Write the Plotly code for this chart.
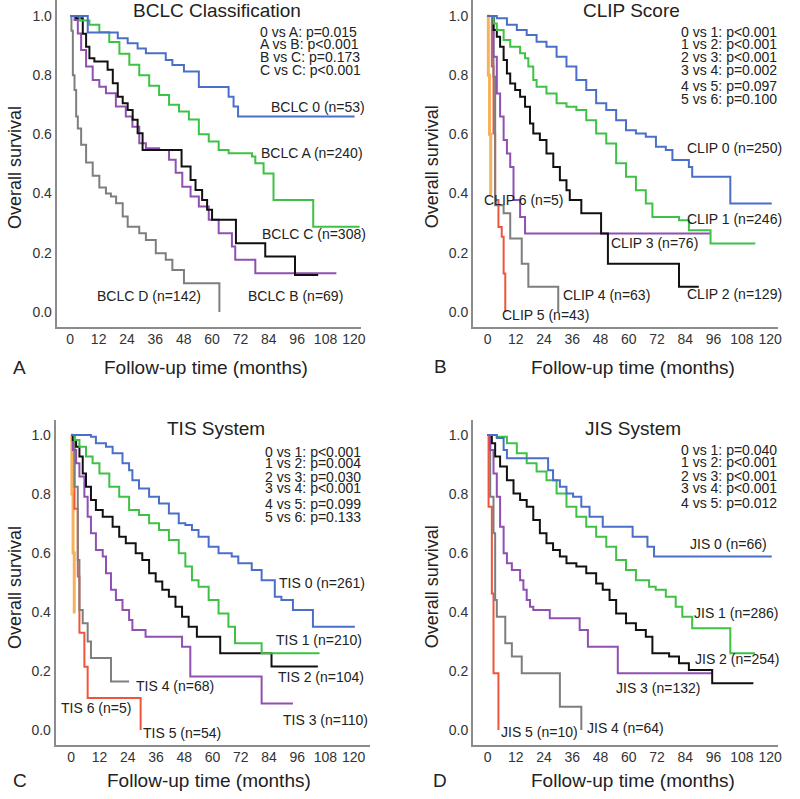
import plotly.graph_objects as go

W, H = 800, 799

# ---- Panel A: BCLC ----
bclc0_t = [0, 7.4, 20.1, 24.3, 28.5, 32.0, 40.4, 43.2, 48.1, 54.4, 67.0, 69.1, 71.0, 120.3]
bclc0_s = [1.0, 0.944, 0.925, 0.908, 0.890, 0.874, 0.851, 0.834, 0.812, 0.760, 0.727, 0.694, 0.660, 0.660]
bclcA_t = [0, 1.1, 4.0, 8.1, 12.3, 16.5, 20.8, 25.0, 29.2, 33.4, 37.6, 41.8, 46.0, 50.2, 54.4, 58.6, 62.8, 67.0,
           76.9, 78.3, 81.8, 86.0, 102.8, 122.4]
bclcA_s = [1.0, 1.0, 0.985, 0.970, 0.945, 0.912, 0.872, 0.835, 0.800, 0.764, 0.733, 0.700, 0.677, 0.650, 0.600,
           0.576, 0.547, 0.536, 0.525, 0.502, 0.468, 0.378, 0.288, 0.288]
bclcC_t = [0, 0.9, 2.5, 5.3, 6.7, 8.1, 10.2, 15.8, 18.0, 20.1, 22.2, 24.3, 26.4, 28.5, 30.6, 47.1, 50.9, 53.0,
           55.8, 57.9, 60.0, 70.1, 82.5, 95.1, 104.9]
bclcC_s = [1.0, 1.0, 0.992, 0.940, 0.896, 0.857, 0.846, 0.818, 0.773, 0.727, 0.705, 0.682, 0.649, 0.604, 0.547,
           0.491, 0.446, 0.412, 0.378, 0.345, 0.311, 0.232, 0.187, 0.125, 0.125]
bclcB_t = [0, 1.8, 3.2, 4.6, 6.7, 9.5, 12.3, 15.1, 19.3, 23.5, 26.3, 29.2, 32.0, 37.6, 41.8, 44.6, 47.4, 50.9,
           54.4, 58.6, 62.8, 68.4, 69.8, 78.3, 112.6]
bclcB_s = [1.0, 0.986, 0.941, 0.885, 0.829, 0.784, 0.761, 0.739, 0.694, 0.660, 0.626, 0.570, 0.553, 0.547, 0.514,
           0.470, 0.423, 0.390, 0.356, 0.311, 0.266, 0.221, 0.176, 0.131, 0.131]
bclcD_t = [0, 0.5, 1.1, 1.8, 2.5, 3.2, 4.6, 6.7, 9.5, 12.3, 15.1, 17.2, 19.4, 22.2, 24.3, 29.2, 32.0, 36.2, 40.4,
           43.2, 48.1, 63.1]
bclcD_s = [1.0, 0.95, 0.80, 0.75, 0.66, 0.62, 0.565, 0.505, 0.46, 0.42, 0.40, 0.39, 0.367, 0.322, 0.288, 0.266,
           0.243, 0.198, 0.176, 0.142, 0.097, 0.0]

# ---- Panel B: CLIP ----
clip0_t = [0, 3.9, 8.2, 12.4, 16.6, 20.8, 25.0, 29.3, 33.5, 37.7, 41.9, 46.1, 50.4, 54.6, 58.8, 63.0, 67.2, 71.5,
           75.7, 78.5, 85.5, 86.9, 103.1, 120.7]
clip0_s = [1.0, 0.992, 0.970, 0.953, 0.936, 0.913, 0.896, 0.862, 0.829, 0.784, 0.750, 0.705, 0.682, 0.648, 0.614,
           0.603, 0.592, 0.558, 0.547, 0.513, 0.490, 0.457, 0.366, 0.366]
clip1_t = [0, 2.5, 3.9, 6.8, 9.6, 13.8, 15.9, 17.3, 19.4, 20.8, 25.0, 29.3, 33.5, 37.7, 41.9, 46.1, 50.4, 54.6,
           58.8, 63.0, 67.2, 70.0, 81.3, 85.5, 94.7, 113.7]
clip1_s = [1.0, 0.975, 0.953, 0.919, 0.896, 0.874, 0.857, 0.829, 0.784, 0.761, 0.738, 0.705, 0.693, 0.682, 0.648,
           0.603, 0.569, 0.502, 0.457, 0.411, 0.366, 0.321, 0.310, 0.276, 0.231, 0.231]
clip2_t = [0, 2.5, 3.9, 5.3, 6.8, 8.2, 9.6, 11.7, 13.8, 15.9, 18.0, 19.4, 22.2, 25.0, 27.9, 30.7, 33.5, 34.9, 39.8,
           48.2, 51.1, 81.3, 89.7]
clip2_s = [1.0, 0.953, 0.930, 0.896, 0.851, 0.806, 0.772, 0.750, 0.727, 0.693, 0.637, 0.603, 0.581, 0.535, 0.490,
           0.445, 0.411, 0.378, 0.333, 0.265, 0.163, 0.085, 0.085]
clip3_t = [0, 2.5, 3.9, 5.3, 6.8, 8.2, 9.6, 11.0, 13.8, 15.9, 94.7]
clip3_s = [1.0, 0.862, 0.738, 0.660, 0.581, 0.535, 0.490, 0.378, 0.321, 0.265, 0.265]
clip4_t = [0, 2.5, 3.2, 6.8, 9.6, 14.5, 17.3, 30.0]
clip4_s = [1.0, 0.795, 0.360, 0.333, 0.248, 0.163, 0.085, 0.0]
clip5_t = [0, 1.8, 2.5, 3.2, 4.6, 6.0, 6.8, 7.5]
clip5_s = [1.0, 0.829, 0.603, 0.378, 0.287, 0.254, 0.130, 0.0]
clip6_t = [0, 0.3, 0.8, 1.3, 1.8]
clip6_s = [1.0, 0.8, 0.6, 0.4, 0.4]

# ---- Panel C: TIS ----
tis0_t = [0, 8.4, 10.5, 14.8, 17.6, 21.8, 24.6, 26.0, 28.8, 33.1, 37.3, 41.5, 45.7, 48.5, 51.3, 54.1, 58.4, 62.6,
          68.2, 71.0, 76.7, 80.9, 86.5, 89.3, 94.2, 102.7, 120.5]
tis0_s = [1.0, 0.994, 0.972, 0.960, 0.938, 0.904, 0.881, 0.847, 0.819, 0.791, 0.768, 0.734, 0.701, 0.695, 0.678,
          0.655, 0.621, 0.599, 0.588, 0.565, 0.542, 0.508, 0.452, 0.441, 0.407, 0.350, 0.350]
tis1_t = [0, 1.4, 3.5, 6.3, 9.1, 12.0, 16.2, 20.4, 24.6, 28.8, 33.1, 37.3, 41.5, 45.7, 48.5, 51.3, 54.1, 58.4, 62.6,
          66.8, 69.6, 80.9, 105.5]
tis1_s = [1.0, 0.983, 0.960, 0.927, 0.904, 0.870, 0.825, 0.791, 0.746, 0.729, 0.701, 0.678, 0.644, 0.599, 0.554,
          0.508, 0.486, 0.441, 0.395, 0.350, 0.294, 0.260, 0.260]
tis2_t = [0, 0.7, 2.1, 3.5, 4.9, 6.3, 8.4, 10.5, 13.4, 17.6, 20.4, 23.2, 27.4, 30.2, 33.1, 35.9, 38.7, 41.5, 44.3,
          47.1, 49.9, 53.4, 63.3, 85.1, 104.8]
tis2_s = [1.0, 0.983, 0.960, 0.927, 0.870, 0.825, 0.780, 0.746, 0.723, 0.689, 0.655, 0.633, 0.599, 0.576, 0.531,
          0.503, 0.475, 0.452, 0.418, 0.384, 0.350, 0.316, 0.260, 0.215, 0.215]
tis3_t = [0, 0.7, 2.1, 3.5, 5.6, 7.0, 8.4, 10.5, 13.4, 14.8, 16.9, 19.0, 21.8, 24.6, 26.0, 31.6, 47.1, 50.6, 80.9,
          94.2]
tis3_s = [1.0, 0.949, 0.904, 0.859, 0.791, 0.723, 0.667, 0.610, 0.588, 0.531, 0.475, 0.441, 0.407, 0.373, 0.339,
          0.316, 0.282, 0.181, 0.090, 0.090]
tis4_t = [0, 1.4, 2.8, 3.5, 4.9, 7.0, 8.4, 16.9, 24.6]
tis4_s = [1.0, 0.825, 0.576, 0.407, 0.362, 0.300, 0.244, 0.164, 0.164]
tis5_t = [0, 1.4, 2.8, 3.5, 5.6, 7.0, 29.5]
tis5_s = [1.0, 0.75, 0.52, 0.33, 0.214, 0.108, 0.0]
tis6_t = [0, 0.3, 0.8, 1.3, 1.8]
tis6_s = [1.0, 0.8, 0.6, 0.4, 0.4]

# ---- Panel D: JIS ----
jis0_t = [0, 3.9, 6.8, 8.2, 25.7, 27.8, 30.7, 33.5, 36.3, 39.8, 43.3, 48.9, 61.6, 67.9, 70.7, 120.7]
jis0_s = [1.0, 0.990, 0.949, 0.921, 0.881, 0.847, 0.825, 0.802, 0.791, 0.757, 0.723, 0.689, 0.655, 0.621, 0.588,
          0.588]
jis1_t = [0, 3.9, 8.2, 12.4, 16.6, 20.8, 25.0, 29.3, 33.5, 37.7, 41.9, 46.1, 50.4, 54.6, 58.8, 63.0, 68.6, 71.4,
          75.7, 79.9, 82.7, 86.9, 103.1, 113.6]
jis1_s = [1.0, 0.994, 0.972, 0.938, 0.904, 0.876, 0.847, 0.802, 0.757, 0.723, 0.689, 0.655, 0.621, 0.576, 0.542,
          0.508, 0.486, 0.475, 0.452, 0.418, 0.384, 0.345, 0.260, 0.260]
jis2_t = [0, 1.8, 3.2, 5.3, 8.2, 11.0, 13.8, 16.6, 19.4, 22.2, 25.0, 27.8, 30.7, 33.5, 37.7, 41.9, 46.1, 48.9, 51.8,
          54.6, 58.8, 63.0, 67.2, 70.0, 77.1, 81.3, 85.5, 95.4, 112.9]
jis2_s = [1.0, 0.972, 0.927, 0.893, 0.847, 0.802, 0.780, 0.757, 0.712, 0.667, 0.633, 0.610, 0.588, 0.565, 0.554,
          0.531, 0.497, 0.475, 0.441, 0.395, 0.362, 0.339, 0.316, 0.260, 0.249, 0.226, 0.203, 0.158, 0.158]
jis3_t = [0, 1.1, 2.5, 3.9, 5.3, 6.8, 8.2, 10.3, 13.8, 15.2, 16.6, 18.0, 19.4, 26.4, 39.1, 42.6, 55.3, 95.4]
jis3_s = [1.0, 0.949, 0.870, 0.791, 0.689, 0.599, 0.565, 0.542, 0.508, 0.475, 0.441, 0.418, 0.407, 0.379, 0.339,
          0.282, 0.192, 0.192]
jis4_t = [0, 1.1, 2.5, 3.2, 3.9, 7.5, 10.3, 14.5, 30.7, 39.8]
jis4_s = [1.0, 0.791, 0.667, 0.441, 0.384, 0.294, 0.249, 0.192, 0.079, 0.0]
jis5_t = [0, 0.4, 1.8, 2.5, 4.6]
jis5_s = [1.0, 0.757, 0.463, 0.192, 0.0]

x_ticks = [0, 12, 24, 36, 48, 60, 72, 84, 96, 108, 120]
y_ticks = [0.0, 0.2, 0.4, 0.6, 0.8, 1.0]

BLUE, GREEN, BLACK = "#4a6fc8", "#3fc145", "#111111"
PURPLE, GREY, RED, ORANGE = "#9050b2", "#7e7e7e", "#f0553c", "#f5a53c"
FONT = "Liberation Sans, Arial, Helvetica, sans-serif"

panels = [
    # axis suffix, curves (t, s, colour)
    ("", [(bclcD_t, bclcD_s, GREY), (bclcB_t, bclcB_s, PURPLE), (bclcC_t, bclcC_s, BLACK),
          (bclcA_t, bclcA_s, GREEN), (bclc0_t, bclc0_s, BLUE)]),
    ("2", [(clip6_t, clip6_s, ORANGE), (clip5_t, clip5_s, RED), (clip4_t, clip4_s, GREY),
           (clip3_t, clip3_s, PURPLE), (clip2_t, clip2_s, BLACK), (clip1_t, clip1_s, GREEN),
           (clip0_t, clip0_s, BLUE)]),
    ("3", [(tis6_t, tis6_s, ORANGE), (tis5_t, tis5_s, RED), (tis4_t, tis4_s, GREY),
           (tis3_t, tis3_s, PURPLE), (tis2_t, tis2_s, BLACK), (tis1_t, tis1_s, GREEN),
           (tis0_t, tis0_s, BLUE)]),
    ("4", [(jis5_t, jis5_s, RED), (jis4_t, jis4_s, GREY), (jis3_t, jis3_s, PURPLE),
           (jis2_t, jis2_s, BLACK), (jis1_t, jis1_s, GREEN), (jis0_t, jis0_s, BLUE)]),
]

fig = go.Figure()
for suffix, curves in panels:
    for t, s, col in curves:
        fig.add_trace(go.Scatter(
            x=t, y=s, mode="lines", line=dict(color=col, width=3 if col == ORANGE else 2, shape="hv"),
            opacity=0.85 if col == ORANGE else 1.0,
            xaxis="x" + suffix, yaxis="y" + suffix, hoverinfo="skip",
        ))


def px(x):
    return x / W


def py(y):
    return 1 - y / H


# axis boxes in pixels: left, right, top, bottom, x-range, y-range
boxes = {
    "": (57, 363, 0, 327, [-5.76, 122.9], [-0.051, 1.054]),
    "2": (476, 783, 0, 327, [-6.2, 123.4], [-0.051, 1.054]),
    "3": (56, 372, 420, 745, [-6.6, 126.8], [-0.051, 1.051]),
    "4": (476, 783, 420, 745, [-6.2, 123.4], [-0.051, 1.051]),
}

axis_common = dict(showgrid=False, zeroline=False, showline=True, linecolor="#8c8c8c", linewidth=2,
                   ticks="", tickfont=dict(size=14, color="#333", family=FONT), mirror=False)

layout = dict(
    width=W, height=H, margin=dict(l=0, r=0, t=0, b=0),
    paper_bgcolor="white", plot_bgcolor="white", showlegend=False,
    font=dict(family=FONT, color="#222"),
)
for suffix, (l, r, t, b, xr, yr) in boxes.items():
    layout["xaxis" + suffix] = dict(domain=[px(l), px(r)], range=xr, anchor="y" + suffix,
                                    tickvals=x_ticks, ticklabelstandoff=-2, **axis_common)
    layout["yaxis" + suffix] = dict(domain=[py(b), py(t)], range=yr, anchor="x" + suffix,
                                    tickvals=y_ticks, tickformat=".1f", **axis_common)
fig.update_layout(**layout)

annotations = []


def text(x, y, s, size=14, xanchor="left", angle=0):
    annotations.append(dict(x=px(x), y=py(y), xref="paper", yref="paper", text=s, showarrow=False,
                            xanchor=xanchor, yanchor="middle", textangle=angle,
                            font=dict(size=size, color="#222", family=FONT)))


titles = [("BCLC Classification", 218, 10), ("CLIP Score", 635, 10),
          ("TIS System", 217, 429), ("JIS System", 637, 429)]
for s, x, y in titles:
    text(x, y, s, size=19, xanchor="center")

for x, y in [(207, 367), (637, 367), (210, 780), (637, 780)]:
    text(x, y, "Follow-up time (months)", size=19, xanchor="center")
for x, y in [(15, 167), (435, 167), (15, 587), (435, 587)]:
    text(x, y, "Overall survival", size=18, xanchor="center", angle=-90)
for s, x, y in [("A", 20, 367), ("B", 443, 366), ("C", 20, 780), ("D", 443, 780)]:
    text(x, y, s, size=19, xanchor="center")

pvals_A = ["0 vs A: p=0.015", "A vs B: p&lt;0.001", "B vs C: p=0.173", "C vs C: p&lt;0.001"]
pvals_B = ["0 vs 1: p&lt;0.001", "1 vs 2: p&lt;0.001", "2 vs 3: p&lt;0.001", "3 vs 4: p=0.002",
           "4 vs 5: p=0.097", "5 vs 6: p=0.100"]
pvals_C = ["0 vs 1: p&lt;0.001", "1 vs 2: p=0.004", "2 vs 3: p=0.030", "3 vs 4: p&lt;0.001",
           "4 vs 5: p=0.099", "5 vs 6: p=0.133"]
pvals_D = ["0 vs 1: p=0.040", "1 vs 2: p&lt;0.001", "2 vs 3: p&lt;0.001", "3 vs 4: p&lt;0.001",
           "4 vs 5: p=0.012"]
for lines, x, ys in [(pvals_A, 260, [32, 44, 57, 70]),
                     (pvals_B, 683, [32, 44, 57, 70, 86, 99]),
                     (pvals_C, 265, [452, 463, 477, 488, 504, 517]),
                     (pvals_D, 683, [450, 462, 476, 488, 503])]:
    for s, y in zip(lines, ys):
        text(x, y, s)

labels = [
    ("BCLC 0 (n=53)", 271, 107), ("BCLC A (n=240)", 261, 153), ("BCLC C (n=308)", 262, 234),
    ("BCLC D (n=142)", 96, 296), ("BCLC B (n=69)", 248, 296),
    ("CLIP 0 (n=250)", 689, 148), ("CLIP 1 (n=246)", 689, 219), ("CLIP 3 (n=76)", 613, 243),
    ("CLIP 2 (n=129)", 689, 294), ("CLIP 4 (n=63)", 565, 295), ("CLIP 5 (n=43)", 503, 315),
    ("CLIP 6 (n=5)", 485, 200),
    ("TIS 0 (n=261)", 279, 583), ("TIS 1 (n=210)", 276, 640), ("TIS 2 (n=104)", 278, 677),
    ("TIS 3 (n=110)", 283, 720), ("TIS 4 (n=68)", 135, 686), ("TIS 5 (n=54)", 142, 733),
    ("TIS 6 (n=5)", 59, 708),
    ("JIS 0 (n=66)", 692, 544), ("JIS 1 (n=286)", 696, 613), ("JIS 2 (n=254)", 697, 659),
    ("JIS 3 (n=132)", 618, 688), ("JIS 4 (n=64)", 589, 728), ("JIS 5 (n=10)", 502, 732),
]
for s, x, y in labels:
    text(x, y, s)

fig.update_layout(annotations=annotations)
# drop the default page margin so the figure sits at the window's top-left corner
fig.write_html("out.html", config={"displayModeBar": False},
               post_script="document.body.style.margin='0';")
